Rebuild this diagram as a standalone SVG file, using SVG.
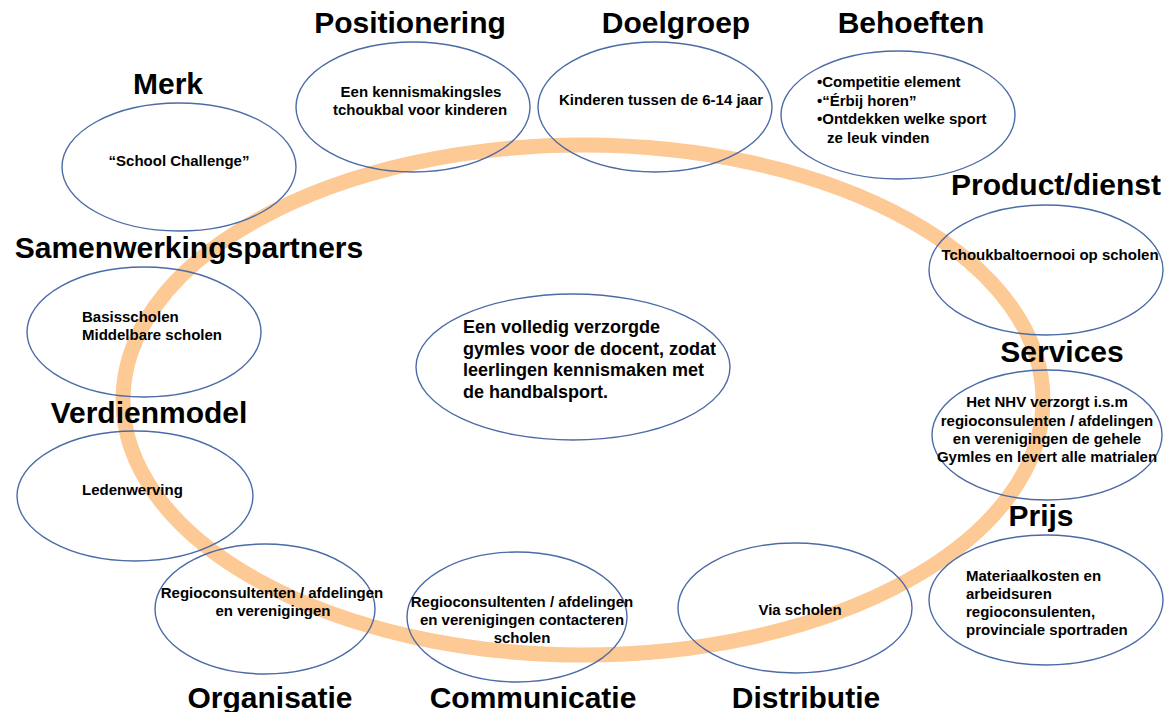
<svg xmlns="http://www.w3.org/2000/svg" width="1165" height="712" viewBox="0 0 1165 712">
  <style>
    .ring { fill: none; stroke: #fdc995; stroke-width: 15; }
    .node { fill: none; stroke: #4c6ba6; stroke-width: 1.4; }
    .title { font-family: "Liberation Sans", Arial, sans-serif; font-weight: bold; font-size: 30px; fill: #000; text-anchor: middle; }
    .body { font-family: "Liberation Sans", Arial, sans-serif; font-weight: bold; font-size: 15px; fill: #000; }
    .mid { text-anchor: middle; }
    .core { font-family: "Liberation Sans", Arial, sans-serif; font-weight: bold; font-size: 18px; fill: #000; }
  </style>
  <rect width="1165" height="712" fill="#ffffff"/>

  <!-- orange cycle band linking all blocks -->
  <g id="connectors">
    <ellipse class="ring" cx="583" cy="400" rx="460" ry="255"/>
  </g>

  <g id="merk">
    <text class="title" x="168" y="94">Merk</text>
    <ellipse class="node" cx="179" cy="167" rx="117" ry="64"/>
    <text class="body mid" x="179" y="166">“School Challenge”</text>
  </g>

  <g id="positionering">
    <text class="title" x="410" y="33">Positionering</text>
    <ellipse class="node" cx="413" cy="107" rx="117" ry="65"/>
    <text class="body mid" x="421" y="97">Een kennismakingsles</text>
    <text class="body mid" x="420" y="115">tchoukbal voor kinderen</text>
  </g>

  <g id="doelgroep">
    <text class="title" x="676" y="33">Doelgroep</text>
    <ellipse class="node" cx="655" cy="107" rx="117" ry="65"/>
    <text class="body mid" x="661" y="105">Kinderen tussen de 6-14 jaar</text>
  </g>

  <g id="behoeften">
    <text class="title" x="911" y="33">Behoeften</text>
    <ellipse class="node" cx="898" cy="115" rx="117" ry="64"/>
    <text class="body" x="817" y="87">•Competitie element</text>
    <text class="body" x="817" y="106">•“Érbij horen”</text>
    <text class="body" x="817" y="124">•Ontdekken welke sport</text>
    <text class="body" x="827" y="143">ze leuk vinden</text>
  </g>

  <g id="product-dienst">
    <text class="title" x="1056" y="195">Product/dienst</text>
    <ellipse class="node" cx="1046" cy="270" rx="117" ry="65"/>
    <text class="body mid" x="1050" y="260">Tchoukbaltoernooi op scholen</text>
  </g>

  <g id="services">
    <text class="title" x="1062" y="362">Services</text>
    <ellipse class="node" cx="1047" cy="435" rx="115" ry="65"/>
    <text class="body mid" x="1047" y="407">Het NHV verzorgt i.s.m</text>
    <text class="body mid" x="1047" y="426">regioconsulenten / afdelingen</text>
    <text class="body mid" x="1047" y="444">en verenigingen de gehele</text>
    <text class="body mid" x="1047" y="462">Gymles en levert alle matrialen</text>
  </g>

  <g id="prijs">
    <text class="title" x="1041" y="526">Prijs</text>
    <ellipse class="node" cx="1046" cy="600" rx="117" ry="65"/>
    <text class="body" x="966" y="581">Materiaalkosten en</text>
    <text class="body" x="966" y="599">arbeidsuren</text>
    <text class="body" x="966" y="617">regioconsulenten,</text>
    <text class="body" x="966" y="635">provinciale sportraden</text>
  </g>

  <g id="distributie">
    <ellipse class="node" cx="795" cy="608" rx="117" ry="65"/>
    <text class="body mid" x="800" y="615">Via scholen</text>
    <text class="title" x="806" y="708">Distributie</text>
  </g>

  <g id="communicatie">
    <ellipse class="node" cx="517" cy="617" rx="110" ry="65"/>
    <text class="body mid" x="522" y="607">Regioconsultenten / afdelingen</text>
    <text class="body mid" x="522" y="625">en verenigingen contacteren</text>
    <text class="body mid" x="522" y="643">scholen</text>
    <text class="title" x="533" y="708">Communicatie</text>
  </g>

  <g id="organisatie">
    <ellipse class="node" cx="265" cy="609" rx="110" ry="65"/>
    <text class="body mid" x="272" y="598">Regioconsultenten / afdelingen</text>
    <text class="body mid" x="273" y="616">en verenigingen</text>
    <text class="title" x="270" y="708">Organisatie</text>
  </g>

  <g id="verdienmodel">
    <text class="title" x="149" y="423">Verdienmodel</text>
    <ellipse class="node" cx="135" cy="496" rx="118" ry="65"/>
    <text class="body" x="82" y="495">Ledenwerving</text>
  </g>

  <g id="samenwerkingspartners">
    <text class="title" x="189" y="258">Samenwerkingspartners</text>
    <ellipse class="node" cx="144" cy="332" rx="117" ry="65"/>
    <text class="body" x="82" y="322">Basisscholen</text>
    <text class="body" x="82" y="340">Middelbare scholen</text>
  </g>

  <g id="kern">
    <ellipse class="node" cx="573" cy="367" rx="157" ry="73"/>
    <text class="core" x="463" y="333">Een volledig verzorgde</text>
    <text class="core" x="463" y="355">gymles voor de docent, zodat</text>
    <text class="core" x="463" y="376">leerlingen kennismaken met</text>
    <text class="core" x="463" y="398">de handbalsport.</text>
  </g>
</svg>
